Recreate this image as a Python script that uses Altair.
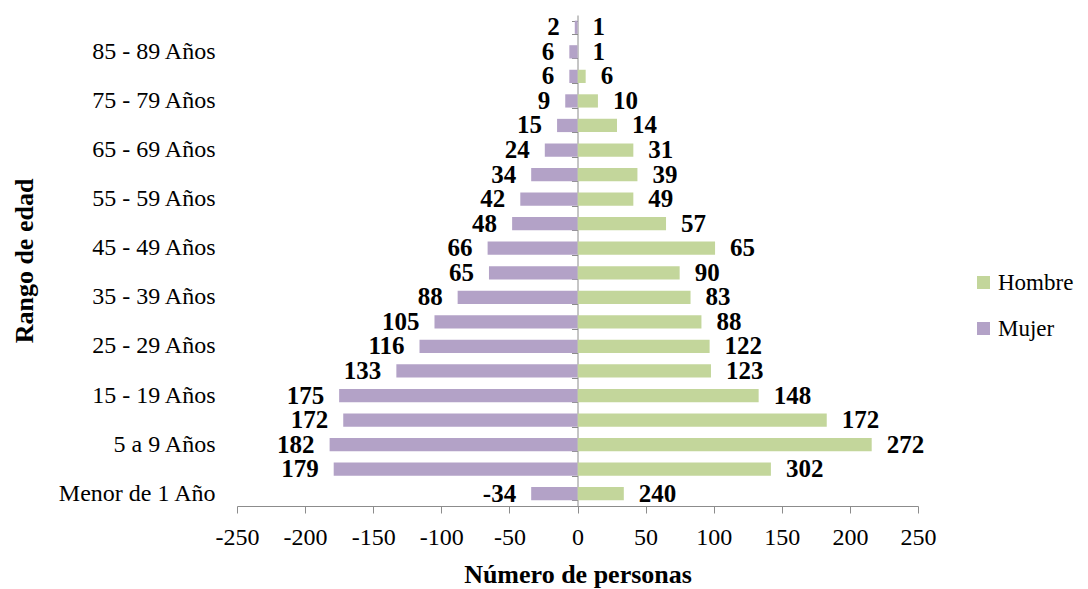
import altair as alt
import pandas as pd

# Age groups, bottom (youngest) to top (oldest)
categories = [
    "Menor de 1 Año", "1 a 4 Años", "5 a 9 Años", "10 - 14 Años", "15 - 19 Años",
    "20 - 24 Años", "25 - 29 Años", "30 - 34 Años", "35 - 39 Años", "40 - 44 Años",
    "45 - 49 Años", "50 - 54 Años", "55 - 59 Años", "60 - 64 Años", "65 - 69 Años",
    "70 - 74 Años", "75 - 79 Años", "80 - 84 Años", "85 - 89 Años", "90 y más Años",
]
shown_labels = categories[0::2]

mujer_values = [-34, -179, -182, -172, -175, -133, -116, -105, -88, -65,
                -66, -48, -42, -34, -24, -15, -9, -6, -6, -2]
mujer_labels = ["-34", "179", "182", "172", "175", "133", "116", "105", "88", "65",
                "66", "48", "42", "34", "24", "15", "9", "6", "6", "2"]
hombre_values = [34, 142, 216, 183, 133, 98, 97, 91, 83, 75,
                 101, 65, 41, 44, 41, 29, 15, 6, 0, 0]
hombre_labels = ["240", "302", "272", "172", "148", "123", "122", "88", "83", "90",
                 "65", "57", "49", "39", "31", "14", "10", "6", "1", "1"]

series = ["Hombre", "Mujer"]
colors = ["#C3D69B", "#B3A2C7"]
x_ticks = [-250, -200, -150, -100, -50, 0, 50, 100, 150, 200, 250]

rows = []
for c, v, l in zip(categories, hombre_values, hombre_labels):
    rows.append({"cat": c, "sexo": "Hombre", "valor": v, "etiqueta": l})
for c, v, l in zip(categories, mujer_values, mujer_labels):
    rows.append({"cat": c, "sexo": "Mujer", "valor": v, "etiqueta": l})
df = pd.DataFrame(rows)
cat_df = pd.DataFrame({"cat": categories})

FONT = "Liberation Serif"
GRAY = "#8C8C8C"
order = list(reversed(categories))
W, H = 681, 491

x_enc = alt.X(
    "valor:Q",
    scale=alt.Scale(domain=[-250, 250], nice=False, zero=False),
    axis=alt.Axis(
        values=x_ticks, grid=False, domainColor=GRAY, tickColor=GRAY, tickSize=7,
        labelExpr="'' + datum.value", labelFont=FONT, labelFontSize=24,
        labelColor="#000000", labelPadding=12, labelFlush=False, labelOverlap=False,
        title="Número de personas", titleFont=FONT, titleFontSize=26,
        titleFontWeight="bold", titleColor="#000000", titlePadding=12,
    ),
)

y_scale = alt.Scale(paddingInner=0.46, paddingOuter=0.23)

bars = alt.Chart(df).mark_bar().encode(
    x=x_enc,
    y=alt.Y(
        "cat:N", sort=order, scale=y_scale,
        axis=alt.Axis(
            orient="left", values=shown_labels, domain=False, ticks=False, tickSize=0,
            labelFont=FONT, labelFontSize=24, labelColor="#000000", labelPadding=22,
            title="Rango de edad", titleFont=FONT, titleFontSize=26,
            titleFontWeight="bold", titleColor="#000000", titlePadding=20,
        ),
    ),
    color=alt.Color(
        "sexo:N",
        scale=alt.Scale(domain=series, range=colors),
        legend=alt.Legend(
            title=None, orient="none", legendX=735, legendY=256,
            symbolType="square", symbolSize=170, symbolStrokeWidth=0,
            labelFont=FONT, labelFontSize=23, labelColor="#000000",
            rowPadding=22, labelOffset=3,
        ),
    ),
)

center_axis = alt.Chart(cat_df).mark_point(opacity=0).encode(
    x=alt.datum(0),
    y=alt.Y(
        "cat:N", sort=order,
        axis=alt.Axis(
            orient="left", offset=-(W / 2), labels=False, domain=True, ticks=True,
            tickBand="extent", tickSize=6, domainColor=GRAY, tickColor=GRAY,
            title=None, grid=False,
        ),
    ),
)

text_h = alt.Chart(df).transform_filter(alt.datum.sexo == "Hombre").mark_text(
    align="left", baseline="middle", dx=15, font=FONT, fontSize=25,
    fontWeight="bold", color="#000000",
).encode(
    x=alt.X("valor:Q"),
    y=alt.Y("cat:N", sort=order, axis=None),
    text="etiqueta:N",
)

text_m = alt.Chart(df).transform_filter(alt.datum.sexo == "Mujer").mark_text(
    align="right", baseline="middle", dx=-15, font=FONT, fontSize=25,
    fontWeight="bold", color="#000000",
).encode(
    x=alt.X("valor:Q"),
    y=alt.Y("cat:N", sort=order, axis=None),
    text="etiqueta:N",
)

chart = alt.layer(bars, center_axis, text_h, text_m).resolve_axis(
    y="independent"
).properties(
    width=W, height=H,
    autosize=alt.AutoSizeParams(type="none"),
    padding={"left": 229, "top": 7, "right": 162, "bottom": 85},
).configure(
    font=FONT
).configure_axis(
    labelFont=FONT, titleFont=FONT
).configure_legend(
    labelFont=FONT
).configure_text(
    font=FONT
).configure_view(stroke=None)

chart.save("out.html", embed_options={"renderer": "svg", "actions": False})
